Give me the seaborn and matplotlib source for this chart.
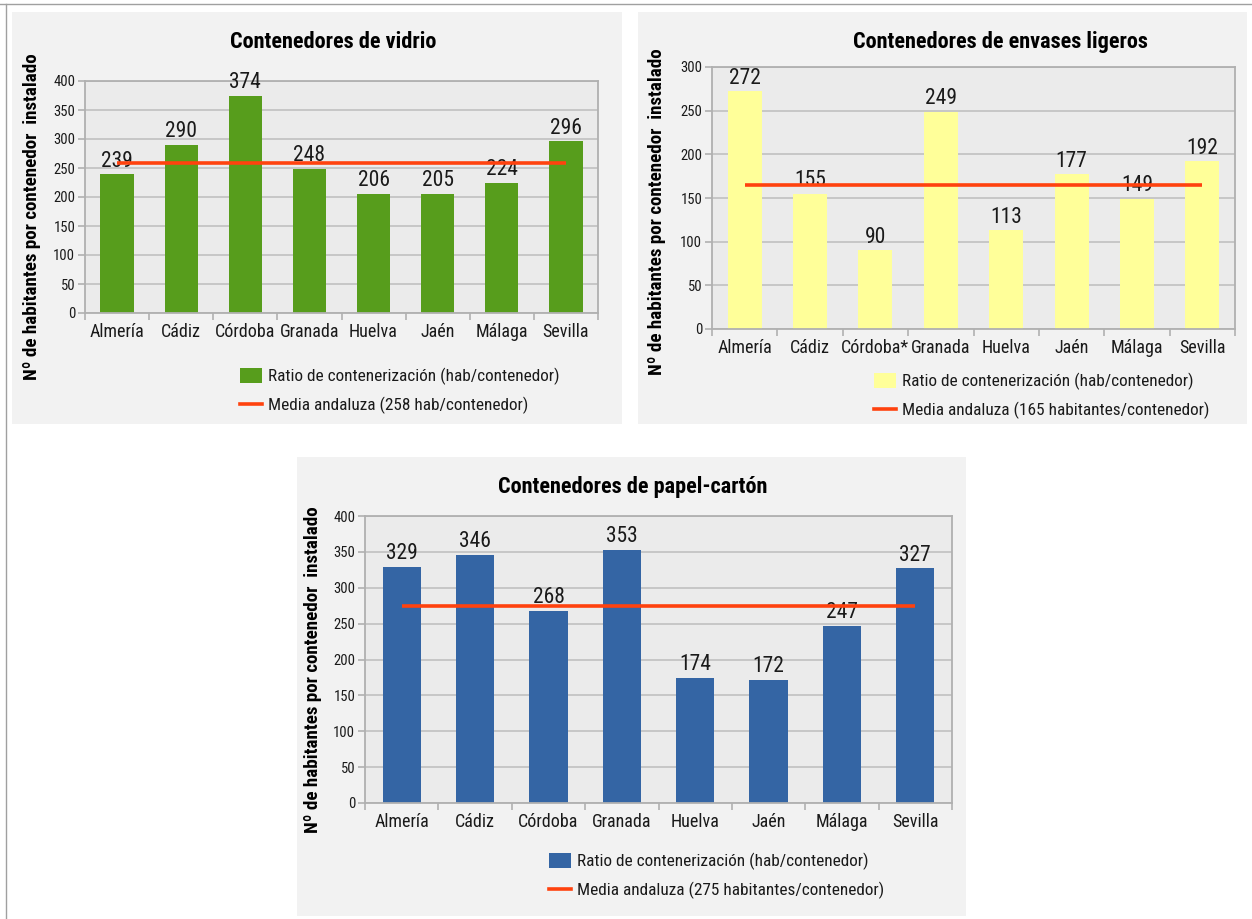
import matplotlib
matplotlib.use('Agg')
import matplotlib.pyplot as plt
from matplotlib import font_manager
from matplotlib.patches import Rectangle, Patch
from matplotlib.lines import Line2D
import numpy as np
import pandas as pd
import seaborn as sns

# Data
provincias = ['Almería', 'Cádiz', 'Córdoba', 'Granada', 'Huelva', 'Jaén', 'Málaga', 'Sevilla']
provincias_envases = ['Almería', 'Cádiz', 'Córdoba*', 'Granada', 'Huelva', 'Jaén', 'Málaga', 'Sevilla']

vidrio = [239, 290, 374, 248, 206, 205, 224, 296]
envases = [272, 155, 90, 249, 113, 177, 149, 192]
papel = [329, 346, 268, 353, 174, 172, 247, 327]

media_vidrio = 258
media_envases = 165
media_papel = 275

W, H = 1252, 919

# Fonts: prefer a narrow family if there is one
names = {f.name for f in font_manager.fontManager.ttflist}
font = 'DejaVu Sans'
for cand in ['Roboto Condensed', 'Liberation Sans Narrow', 'Open Sans Condensed']:
    if cand in names:
        font = cand
        break
plt.rcParams['font.family'] = [font, 'DejaVu Sans']
plt.rcParams['font.stretch'] = 'condensed'

LINE_COLOR = '#ff420e'
GRID = '#c4c4c4'
FRAME = '#b0b0b0'


def fx(x):
    return x / W


def fy(y):
    return 1 - y / H


def draw_panel(fig, panel_box, ax_box, cats, values, media, color, ymax,
               title, title_xy, ylabel_xy, legend_xy, media_label):
    # panel background
    x0, y0, x1, y1 = panel_box
    fig.add_artist(Rectangle((fx(x0), fy(y1)), (x1 - x0) / W, (y1 - y0) / H,
                             transform=fig.transFigure, facecolor='#f2f2f2',
                             edgecolor='none', zorder=-10))

    a0, b0, a1, b1 = ax_box
    ax = fig.add_axes([fx(a0), fy(b1), (a1 - a0) / W, (b1 - b0) / H])
    ax.set_facecolor('#ebebeb')

    df = pd.DataFrame({'provincia': cats, 'ratio': values})
    sns.barplot(data=df, x='provincia', y='ratio', color=color, saturation=1,
                width=0.52, ax=ax, zorder=2)
    ax.bar_label(ax.containers[0], fmt='%d', padding=2, fontsize=15.5,
                 color='#1a1a1a')
    ax.plot(range(len(cats)), [media] * len(cats), color=LINE_COLOR, lw=2.6,
            zorder=5, solid_capstyle='butt')

    ax.set_xlim(-0.5, len(cats) - 0.5)
    ax.set_ylim(0, ymax)
    ax.set_yticks(range(0, ymax + 1, 50))
    ax.yaxis.grid(True, color=GRID, lw=1.3)
    ax.set_axisbelow(True)
    ax.set_xlabel('')
    ax.set_ylabel('')
    for s in ax.spines.values():
        s.set_color(FRAME)
        s.set_linewidth(1.3)

    ax.set_xticks(range(len(cats)))
    ax.set_xticklabels(cats)
    ax.set_xticks(np.arange(-0.5, len(cats), 1), minor=True)
    ax.tick_params(axis='x', which='major', length=0, pad=7, labelsize=13,
                   labelcolor='#1a1a1a')
    ax.tick_params(axis='x', which='minor', length=5, color=FRAME, width=1.2)
    ax.tick_params(axis='y', length=5, color=FRAME, width=1.2, labelsize=10.5,
                   pad=2, labelcolor='#1a1a1a')

    fig.text(fx(title_xy[0]), fy(title_xy[1]), title, ha='center', va='center',
             fontsize=16, fontweight='bold', color='black')
    fig.text(fx(ylabel_xy[0]), fy(ylabel_xy[1]),
             'Nº de habitantes por contenedor  instalado', rotation=90,
             ha='center', va='center', fontsize=13.7, fontweight='bold',
             color='black')

    handles = [Patch(facecolor=color, edgecolor='none'),
               Line2D([], [], color=LINE_COLOR, lw=2.6)]
    labels = ['Ratio de contenerización (hab/contenedor)', media_label]
    fig.legend(handles, labels, loc='upper left',
               bbox_to_anchor=(fx(legend_xy[0]), fy(legend_xy[1])),
               frameon=False, fontsize=12.4, handlelength=1.3, handleheight=0.9,
               handletextpad=0.3, labelspacing=0.68, borderpad=0,
               borderaxespad=0, labelcolor='#1a1a1a')
    return ax


fig = plt.figure(figsize=(W / 100, H / 100), dpi=100)
fig.patch.set_facecolor('white')

# thin page borders
fig.add_artist(Line2D([0, 1], [fy(4), fy(4)], transform=fig.transFigure,
                      color='#a0a0a0', lw=1))
fig.add_artist(Line2D([fx(6), fx(6)], [0, fy(4)], transform=fig.transFigure,
                      color='#a0a0a0', lw=1))

draw_panel(fig, (12, 12, 622, 424), (85, 81, 598, 313), provincias, vidrio,
           media_vidrio, '#579d1c', 400, 'Contenedores de vidrio',
           (333, 42), (32, 217), (240, 368),
           'Media andaluza (258 hab/contenedor)')

draw_panel(fig, (638, 12, 1247, 424), (712, 67, 1235, 329), provincias_envases,
           envases, media_envases, '#ffff99', 300,
           'Contenedores de envases ligeros',
           (1000, 42), (657, 212), (874, 373),
           'Media andaluza (165 habitantes/contenedor)')

draw_panel(fig, (297, 457, 966, 916), (365, 516, 952, 803), provincias, papel,
           media_papel, '#3465a4', 400, 'Contenedores de papel-cartón',
           (633, 487), (313, 670), (549, 853),
           'Media andaluza (275 habitantes/contenedor)')

fig.savefig('out.png', dpi=100, facecolor='white')
